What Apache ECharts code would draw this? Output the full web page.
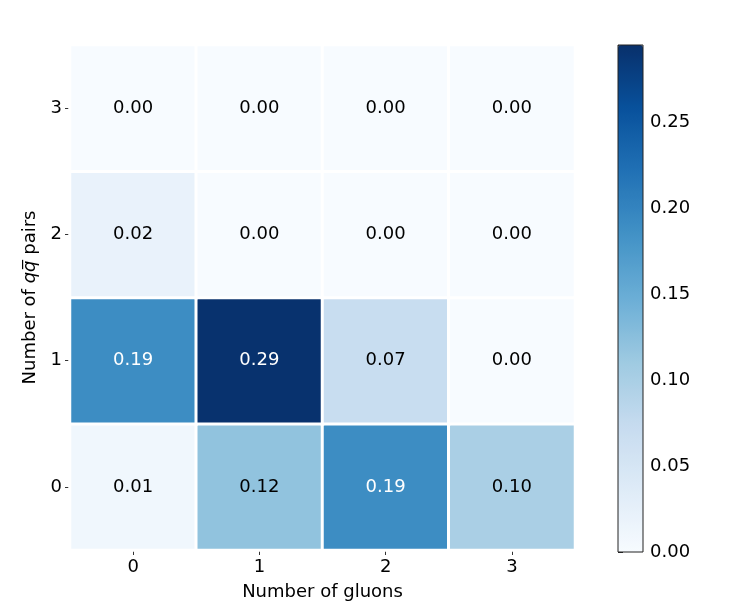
<!DOCTYPE html>
<html><head><meta charset="utf-8">
<script src="https://cdn.jsdelivr.net/npm/echarts@6/dist/echarts.min.js"></script>
<style>html,body{margin:0;padding:0;background:#fff}#c{width:732px;height:614px}</style>
</head><body><div id="c"></div>
<script>
const xCategories = ['0', '1', '2', '3'];
const yCategories = ['0', '1', '2', '3'];
// rows indexed by y (number of q qbar pairs), columns by x (number of gluons)
const row0 = [0.01, 0.12, 0.19, 0.10];
const row1 = [0.19, 0.293, 0.07, 0.00];
const row2 = [0.02, 0.00, 0.00, 0.00];
const row3 = [0.00, 0.00, 0.00, 0.00];
const colorbarTicks = [0, 0.05, 0.10, 0.15, 0.20, 0.25];
const vmax = 0.295;

const rows = [row0, row1, row2, row3];
const data = [];
rows.forEach((r, yi) => r.forEach((v, xi) => {
  data.push({ value: [xi, yi, v], label: { color: v > 0.15 ? '#fff' : '#000' } });
}));
const blues = ['#f7fbff','#deebf7','#c6dbef','#9ecae1','#6baed6','#4292c6','#2171b5','#08519c','#08306b'];
const font = 'DejaVu Sans';
const fs = 18;

const chart = echarts.init(document.getElementById('c'));
chart.setOption({
  animation: false,
  textStyle: { fontFamily: font },
  grid: [
    { left: 70, top: 45, width: 505, height: 505 },
    { left: 618, top: 45, width: 25, height: 507, show: true, borderColor: '#222', borderWidth: 1, backgroundColor: 'transparent', z: 10 }
  ],
  xAxis: [
    { type: 'category', data: xCategories, gridIndex: 0,
      axisLine: { show: false },
      axisTick: { show: true, alignWithLabel: true, length: 5, lineStyle: { color: '#333' } },
      axisLabel: { fontSize: fs, color: '#000', margin: 8, fontFamily: font },
      name: 'Number of gluons', nameLocation: 'middle', nameGap: 33,
      nameTextStyle: { fontSize: fs, color: '#000', fontFamily: font },
      splitLine: { show: false }, splitArea: { show: false } },
    { type: 'value', gridIndex: 1, show: false, min: 0, max: 1 }
  ],
  yAxis: [
    { type: 'category', data: yCategories, gridIndex: 0,
      axisLine: { show: false },
      axisTick: { show: true, alignWithLabel: true, length: 5, lineStyle: { color: '#333' } },
      axisLabel: { fontSize: fs, color: '#000', margin: 8, fontFamily: font },
      name: 'Number of {i|qq\u0305} pairs', nameLocation: 'middle', nameGap: 27, nameRotate: 90,
      nameTextStyle: { fontSize: fs, color: '#000', fontFamily: font,
        rich: { i: { fontStyle: 'italic', fontSize: fs, color: '#000', fontFamily: font } } },
      splitLine: { show: false }, splitArea: { show: false } },
    { type: 'value', gridIndex: 1, position: 'right', min: 0, max: vmax, interval: 0.05,
      axisLine: { show: false },
      axisTick: { show: true, length: 5, inside: false, lineStyle: { color: '#222' } },
      axisLabel: { fontSize: fs, color: '#000', margin: 7, fontFamily: font,
        formatter: v => (colorbarTicks.some(t => Math.abs(t - v) < 1e-9) ? v.toFixed(2) : '') },
      splitLine: { show: false } }
  ],
  visualMap: {
    type: 'continuous', min: 0, max: vmax, seriesIndex: 0,
    calculable: false, show: true, orient: 'vertical', hoverLink: false,
    left: 618, top: 45, itemWidth: 25, itemHeight: 507, padding: 0,
    text: null, showLabel: false, indicatorSize: 0,
    indicatorStyle: { opacity: 0 },
    inRange: { color: blues }
  },
  series: [{
    type: 'heatmap', xAxisIndex: 0, yAxisIndex: 0, data: data,
    itemStyle: { borderColor: '#fff', borderWidth: 3 },
    label: { show: true, fontSize: fs, fontFamily: font, formatter: p => p.value[2].toFixed(2) },
    emphasis: { disabled: true }
  }]
});
</script></body></html>
